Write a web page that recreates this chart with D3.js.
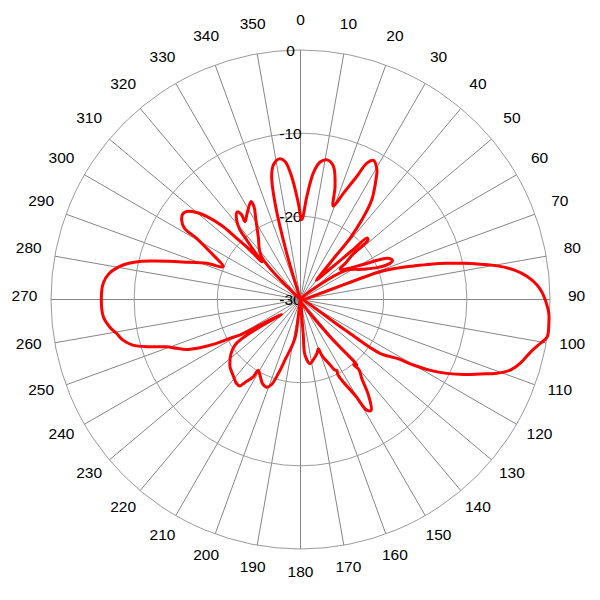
<!DOCTYPE html>
<html><head><meta charset="utf-8">
<script src="https://cdn.jsdelivr.net/npm/d3@7"></script>
<style>body{margin:0;background:#fff}svg{display:block}</style>
</head><body><svg id="c" width="600" height="600"></svg>
<script>
const angleTicks=[0,10,20,30,40,50,60,70,80,90,100,110,120,130,140,150,160,170,180,190,200,210,220,230,240,250,260,270,280,290,300,310,320,330,340,350];
const radialTicks=[0,-10,-20,-30];
// pattern trace (degrees, dB) in drawing order
const patternAngles=[342,343.4,345.2,346.8,348.6,351.4,353.6,355.9,358.7,0.9,
3.5,5.8,8.1,10.9,13.9,17.0,19.3,
22.0,24.6,25.9,27.7,30.5,31.8,35.6,37.6,38.9,38.9,39.1,39.5,
43.8,45.6,46.6,47.2,48.6,49.1,51.0,52.6,
60.6,63.1,64.9,67.2,68.0,67.5,63.7,57.1,
60,
70.7,72.0,73.5,74.8,76.1,77.5,78.9,80.3,82.1,84.2,86.5,88.5,90.5,93.2,95.5,98.6,100.4,102.8,106.2,108.6,110.6,112.5,114.7,116.8,118.6,120.1,121.4,124.1,124.4,
130,
141.9,139.4,140.8,140.2,142.2,144.6,147.5,149.1,150.3,152.9,153.6,152.9,154.2,155.1,159.1,160.0,163.2,168.0,171.5,175.4,175.5,175.6,
180,
188.1,194.4,196.7,198.8,201.0,204.3,207.3,210.9,211.4,213.8,215.1,217.3,221.7,227.1,235.2,231.8,
237.8,239.6,241.2,242.4,244.4,246.4,248.5,250.6,252.6,254.8,257.1,259.6,261.9,265.0,269.9,274.7,277.8,281.0,283.3,285.0,286.6,288.6,291.1,292.9,
297.8,300.5,301.6,303.8,306.0,307.7,309.9,311.9,313.3,313.8,314.4,314.3,
316.4,317.9,319.0,321.3,324.2,325.2,324.5,328.3,333.2,333.4,330.8,326.1,317.8,
342];
const patternValues=[-30,-24.2,-18.0,-14.8,-13.5,-12.9,-13.3,-15.2,-18.4,-20.4,
-17.6,-14.7,-13.3,-12.9,-13.5,-15.8,-18.1,
-16.2,-13.7,-11.8,-11.1,-11.9,-12.7,-15.3,-17.9,-20.5,-23.4,-25.9,-27.0,
-25.0,-23.1,-21.1,-19.1,-19.2,-21.6,-23.0,-24.0,
-21.5,-19.5,-18.3,-18.0,-18.4,-19.9,-21.8,-23.6,
-30,
-19.9,-17.8,-15.8,-13.8,-11.9,-9.9,-8.0,-6.0,-4.1,-2.6,-1.5,-0.9,-0.5,-0.1,0,0,-0.7,-1.6,-2.5,-3.4,-4.8,-6.6,-8.4,-10.3,-12.2,-14.3,-16.4,-18.4,-23.5,
-30,
-24.6,-19.6,-19.9,-19.0,-18.0,-15.9,-14.2,-14.5,-16.7,-19.1,-19.9,-20.4,-20.6,-21.1,-22.8,-23.7,-23.2,-22.6,-22.2,-23.3,-25.7,-28.1,
-30,
-25.3,-22.5,-20.7,-19.2,-18.7,-18.9,-19.5,-20.1,-19.1,-18.0,-17.3,-17.3,-17.8,-18.4,-20.4,-27.1,
-24.2,-21.6,-20.3,-18.6,-16.6,-15.0,-14.0,-12.9,-11.0,-9.1,-8.1,-7.5,-6.8,-6.2,-6.05,-6.2,-6.8,-8.25,-10.1,-12.1,-14.0,-16.0,-17.9,-19.9,
-17.7,-15.5,-13.6,-12.8,-12.5,-12.7,-13.7,-15.3,-17.2,-19.3,-21.5,-23.5,
-21.8,-20.3,-18.9,-17.7,-17.0,-17.6,-18.5,-17.8,-16.8,-17.5,-19.0,-20.9,-23.0,
-30];

const cx=300.5, cy=299.5, R=249.5;
const rad=d=>d*Math.PI/180;
const svg=d3.select('#c');
svg.append('rect').attr('width',600).attr('height',600).attr('fill','#fff');
const r=d3.scaleLinear().domain([-30,0]).range([0,R]);
const g=svg.append('g').attr('transform',`translate(${cx},${cy})`);
const font='"Liberation Sans", Arial, sans-serif';
const fs=15.5;

// spokes
g.selectAll('line.spoke').data(angleTicks).join('line').attr('class','spoke')
 .attr('x1',0).attr('y1',0)
 .attr('x2',d=>R*Math.sin(rad(d))).attr('y2',d=>-R*Math.cos(rad(d)))
 .attr('stroke','#858585').attr('stroke-width',1);
// rings
g.selectAll('circle.ring').data(radialTicks.filter(v=>v>-30)).join('circle').attr('class','ring')
 .attr('r',d=>r(d)).attr('fill','none').attr('stroke','#9a9a9a').attr('stroke-width',1);

// angle labels
const LR=276;
g.selectAll('text.ang').data(angleTicks).join('text').attr('class','ang')
 .attr('x',d=>LR*Math.sin(rad(d))).attr('y',d=>-LR*Math.cos(rad(d))-4.5).attr('dy','0.36em')
 .attr('text-anchor','middle').attr('font-family',font).attr('font-size',fs).attr('fill','#000')
 .text(d=>d);
// radial labels
g.selectAll('text.rl').data(radialTicks).join('text').attr('class','rl')
 .attr('x',-10).attr('y',d=>-r(d)).attr('dy','0.36em')
 .attr('text-anchor','middle').attr('font-family',font).attr('font-size',fs).attr('fill','#000')
 .text(d=>d);

// pattern
const pts=patternAngles.map((a,i)=>[rad(a), r(patternValues[i])]);
const line=d3.lineRadial().angle(d=>d[0]).radius(d=>d[1]).curve(d3.curveCatmullRom.alpha(0.5));
g.append('path').datum(pts).attr('d',line).attr('fill','none')
 .attr('stroke','#ff0000').attr('stroke-width',3).attr('stroke-linejoin','round').attr('stroke-linecap','round');
</script></body></html>
